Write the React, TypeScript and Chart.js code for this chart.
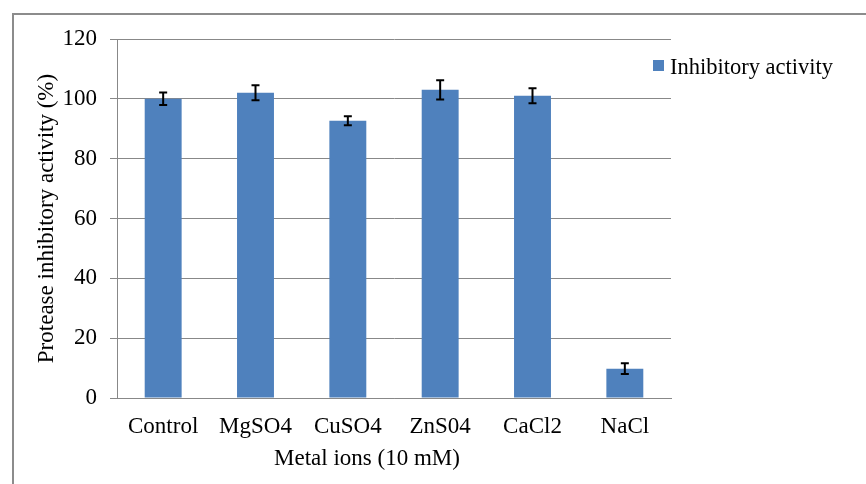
import React, { useEffect, useRef } from "react";
import { Chart, registerables } from "chart.js";

Chart.register(...registerables);

// ---- data ----
const categories = ["Control", "MgSO4", "CuSO4", "ZnS04", "CaCl2", "NaCl"];
const inhibitoryActivity = [100, 102, 92.7, 103, 101, 9.8];
const errorValues = [2.1, 2.5, 1.5, 3.2, 2.5, 1.8];
const yMin = 0;
const yMax = 120;
const yStep = 20;
const seriesLabel = "Inhibitory activity";
const xTitle = "Metal ions (10 mM)";
const yTitle = "Protease inhibitory activity (%)";

const BAR_COLOR = "#4F81BD";
const GRID_COLOR = "#888888";
const FONT_FAMILY = '"Liberation Serif", "Times New Roman", serif';
const FONT_SIZE = 23;

const errorBarPlugin = {
  id: "errorBars",
  afterDatasetsDraw(chart: any) {
    const meta = chart.getDatasetMeta(0);
    const y = chart.scales.y;
    const ctx = chart.ctx;
    ctx.save();
    ctx.strokeStyle = "#000000";
    ctx.lineWidth = 2;
    meta.data.forEach((bar: any, i: number) => {
      const v = inhibitoryActivity[i];
      const e = errorValues[i];
      const top = y.getPixelForValue(v + e);
      const bot = y.getPixelForValue(v - e);
      const x = bar.x;
      const cap = 4;
      ctx.beginPath();
      ctx.moveTo(x, top);
      ctx.lineTo(x, bot);
      ctx.moveTo(x - cap, top);
      ctx.lineTo(x + cap, top);
      ctx.moveTo(x - cap, bot);
      ctx.lineTo(x + cap, bot);
      ctx.stroke();
    });
    ctx.restore();
  },
};

const decorPlugin = {
  id: "decor",
  beforeDraw(chart: any) {
    const ctx = chart.ctx;
    ctx.save();
    ctx.strokeStyle = "#8c8c8c";
    ctx.lineWidth = 2;
    ctx.beginPath();
    ctx.moveTo(13, chart.height);
    ctx.lineTo(13, 14);
    ctx.lineTo(chart.width, 14);
    ctx.stroke();
    ctx.restore();
  },
  afterDraw(chart: any) {
    const ctx = chart.ctx;
    const area = chart.chartArea;
    ctx.save();
    // legend
    ctx.fillStyle = BAR_COLOR;
    ctx.fillRect(area.right - 18, area.top + 21, 11, 11);
    ctx.fillStyle = "#000000";
    ctx.font = `22.5px ${FONT_FAMILY}`;
    ctx.textBaseline = "alphabetic";
    ctx.textAlign = "left";
    ctx.fillText(seriesLabel, area.right - 1, area.top + 35);
    // x axis title
    ctx.font = `${FONT_SIZE}px ${FONT_FAMILY}`;
    ctx.textAlign = "center";
    ctx.fillText(xTitle, (area.left + area.right) / 2 - 27, area.bottom + 67);
    ctx.restore();
  },
};

export default function App() {
  const canvasRef = useRef<HTMLCanvasElement | null>(null);

  useEffect(() => {
    if (!canvasRef.current) return;
    const chart = new Chart(canvasRef.current, {
      type: "bar",
      data: {
        labels: categories,
        datasets: [
          {
            label: seriesLabel,
            data: inhibitoryActivity,
            backgroundColor: BAR_COLOR,
            borderWidth: 0,
            barPercentage: 0.4,
            categoryPercentage: 1,
          },
        ],
      },
      options: {
        animation: false,
        responsive: false,
        maintainAspectRatio: false,
        layout: { padding: { left: 0, right: 195, top: 39, bottom: 0 } },
        plugins: {
          legend: { display: false },
          tooltip: { enabled: false },
        },
        scales: {
          x: {
            grid: { display: false, drawTicks: false },
            border: { display: true, color: GRID_COLOR, width: 1 },
            ticks: {
              color: "#000000",
              padding: 15,
              font: { family: FONT_FAMILY, size: FONT_SIZE },
              maxRotation: 0,
              autoSkip: false,
            },
            afterFit(scale: any) {
              scale.height = 86;
            },
          },
          y: {
            min: yMin,
            max: yMax,
            grid: {
              color: GRID_COLOR,
              lineWidth: 1,
              drawTicks: true,
              tickLength: 7,
            },
            border: { display: true, color: GRID_COLOR, width: 1 },
            ticks: {
              stepSize: yStep,
              color: "#000000",
              padding: 13,
              font: { family: FONT_FAMILY, size: FONT_SIZE },
            },
            title: {
              display: true,
              text: yTitle,
              color: "#000000",
              font: { family: FONT_FAMILY, size: FONT_SIZE },
              padding: { top: 33, bottom: 0 },
            },
            afterFit(scale: any) {
              scale.width = 117;
            },
          },
        },
      },
      plugins: [errorBarPlugin, decorPlugin],
    });
    return () => chart.destroy();
  }, []);

  return (
    <div
      style={{
        position: "absolute",
        left: 0,
        top: 0,
        width: 866,
        height: 484,
        background: "#ffffff",
        overflow: "hidden",
      }}
    >
      <canvas ref={canvasRef} width={866} height={484} style={{ display: "block" }} />
    </div>
  );
}
